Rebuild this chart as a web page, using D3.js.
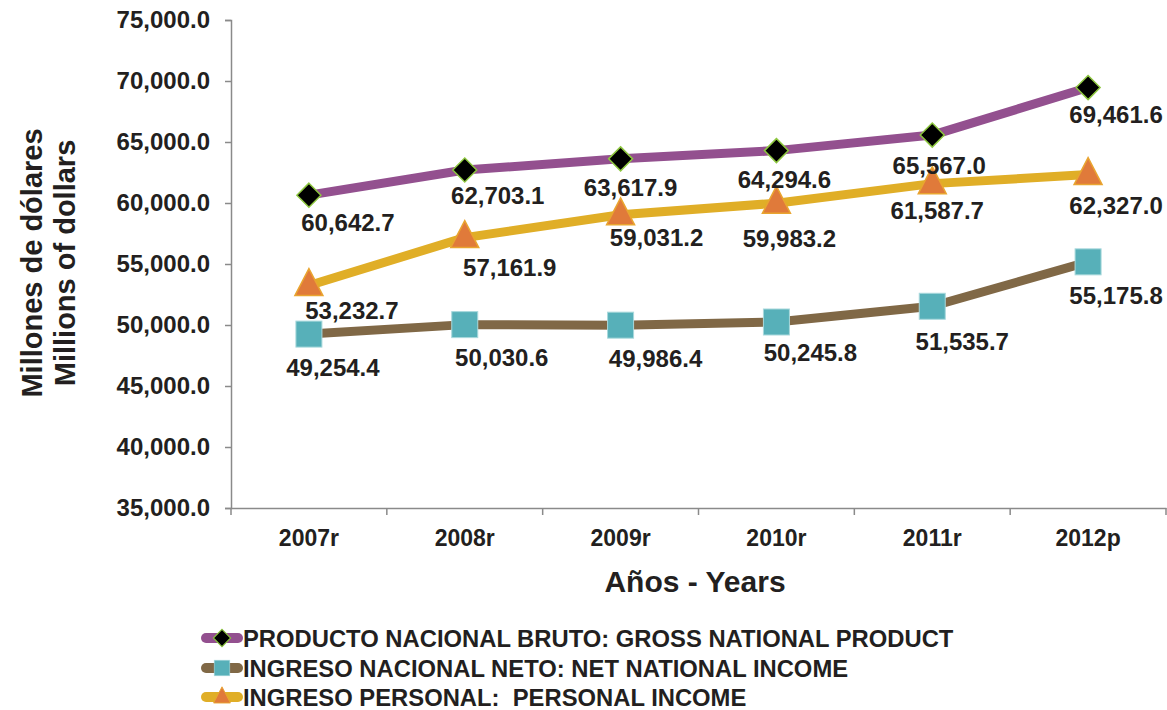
<!DOCTYPE html>
<html><head><meta charset="utf-8">
<script src="https://cdn.jsdelivr.net/npm/d3@7"></script>
<style>body{margin:0;background:#fff}svg{display:block}text{font-family:"Liberation Sans",Arial,sans-serif;font-weight:bold;fill:#231f20}</style>
</head><body><svg id="c" width="1167" height="710"></svg>
<script>
const categories = ["2007r","2008r","2009r","2010r","2011r","2012p"];
const pnb = [60642.7,62703.1,63617.9,64294.6,65567.0,69461.6];
const ingresoNeto = [49254.4,50030.6,49986.4,50245.8,51535.7,55175.8];
const ingresoPersonal = [53232.7,57161.9,59031.2,59983.2,61587.7,62327.0];
const yTicks = [35000,40000,45000,50000,55000,60000,65000,70000,75000];
const seriesNames = ["PRODUCTO NACIONAL BRUTO: GROSS NATIONAL PRODUCT","INGRESO NACIONAL NETO: NET NATIONAL INCOME","INGRESO PERSONAL:  PERSONAL INCOME"];
// label offsets (layout only)
const pnbLabelDx=[39,33,10,8,7,28], pnbLabelDy=[27,25,29,29,30,27];
const netoLabelDx=[24,37,35,34,30,28], netoLabelDy=[33,33,33,30,35,34];
const persLabelDx=[43,45,36,13,5,28], persLabelDy=[25,30,23,35,27,31];

const svg=d3.select("#c");
const L=231,R=1166,T=20,B=508;
const x=d3.scaleBand().domain(categories).range([L,R]);
const y=d3.scaleLinear().domain([35000,75000]).range([B,T]);
const fmt=d3.format(",.1f");

// axes
const ya=svg.append("g").attr("transform",`translate(${L},0)`).call(d3.axisLeft(y).tickValues(yTicks).tickFormat(fmt).tickSize(6).tickPadding(15));
const xa=svg.append("g").attr("transform",`translate(0,${B})`).call(d3.axisBottom(x).tickSize(0).tickPadding(22));
[ya,xa].forEach(g=>{g.select(".domain").attr("stroke","#8a8a8a").attr("stroke-width",1.5);g.selectAll(".tick line").attr("stroke","#8a8a8a").attr("stroke-width",1.5);});
ya.selectAll(".tick text").style("font-size","24px").attr("fill","#231f20");
xa.selectAll(".tick text").style("font-size","23px").attr("fill","#231f20");
// x boundary ticks
const bounds=categories.map(c=>x(c)).concat([R]);
svg.append("g").selectAll("line").data(bounds).join("line").attr("x1",d=>d).attr("x2",d=>d).attr("y1",B).attr("y2",B+7).attr("stroke","#8a8a8a").attr("stroke-width",1.5);

// titles
svg.append("text").attr("transform","translate(42,263) rotate(-90)").attr("text-anchor","middle").style("font-size","29px").text("Millones de dólares");
svg.append("text").attr("transform","translate(75,263) rotate(-90)").attr("text-anchor","middle").style("font-size","29px").text("Millions of dollars");
svg.append("text").attr("x",695).attr("y",592).attr("text-anchor","middle").style("font-size","30px").text("Años - Years");

const cx=c=>x(c)+x.bandwidth()/2;
const series=[
 {name:seriesNames[0],vals:pnb,line:"#93508f",marker:"diamond",fill:"#000",stroke:"#8dc63f",dx:pnbLabelDx,dy:pnbLabelDy},
 {name:seriesNames[1],vals:ingresoNeto,line:"#806846",marker:"square",fill:"#57b0b9",stroke:"#a8d8dc",dx:netoLabelDx,dy:netoLabelDy},
 {name:seriesNames[2],vals:ingresoPersonal,line:"#e0ae27",marker:"triangle",fill:"#e07a3a",stroke:"#e9a530",dx:persLabelDx,dy:persLabelDy}
];
function sym(g,type,fill,stroke){
 if(type==="diamond") g.append("path").attr("d","M0,-12L12,0L0,12L-12,0Z").attr("fill",fill).attr("stroke",stroke).attr("stroke-width",1.5);
 else if(type==="square") g.append("rect").attr("x",-13).attr("y",-13).attr("width",26).attr("height",26).attr("fill",fill).attr("stroke",stroke).attr("stroke-width",1);
 else g.append("path").attr("d","M0,-17L14,10L-14,10Z").attr("fill",fill).attr("stroke",stroke).attr("stroke-width",1.5);
}
const line=d3.line().x((d,i)=>cx(categories[i])).y(d=>y(d));
const order=[1,2,0];
order.forEach(k=>{const s=series[k];
 svg.append("path").datum(s.vals).attr("d",line).attr("fill","none").attr("stroke",s.line).attr("stroke-width",9).attr("stroke-linejoin","round");
});
order.forEach(k=>{const s=series[k];
 s.vals.forEach((v,i)=>{const g=svg.append("g").attr("transform",`translate(${cx(categories[i])},${y(v)})`);sym(g,s.marker,s.fill,s.stroke);});
});
series.forEach(s=>{
 svg.append("g").selectAll("text").data(s.vals).join("text")
  .attr("x",(d,i)=>cx(categories[i])+s.dx[i]).attr("y",(d,i)=>y(d)+s.dy[i]+8.5)
  .attr("text-anchor","middle").style("font-size","24px").text(d=>fmt(d));
});

// legend
const lg=svg.append("g");
series.forEach((s,i)=>{
 const yy=[638,668,697][i];
 const g=lg.append("g").attr("transform",`translate(0,${yy})`);
 g.append("line").attr("x1",206).attr("x2",238).attr("y1",0).attr("y2",0).attr("stroke",s.line).attr("stroke-width",10).attr("stroke-linecap","round");
 const m=g.append("g").attr("transform",`translate(222,0) scale(${s.marker==="diamond"?0.72:0.6})`);
 sym(m,s.marker,s.fill,s.stroke);
 g.append("text").attr("x",243).attr("y",8.5).style("font-size","23.8px").style("white-space","pre").text(s.name);
});
</script></body></html>
